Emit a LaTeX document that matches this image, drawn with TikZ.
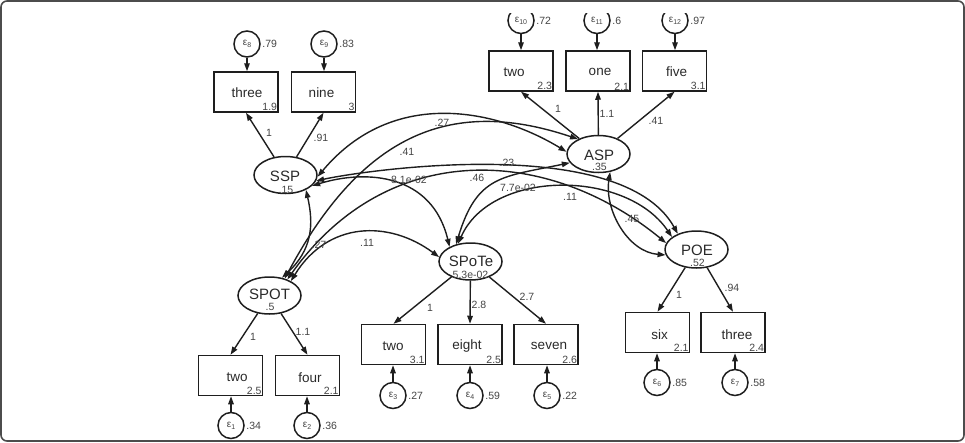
\documentclass[tikz,border=0pt]{standalone}
\usepackage{fontspec}
\setmainfont{Liberation Sans}
\usetikzlibrary{arrows.meta,shapes.geometric}
\definecolor{linec}{HTML}{1E1E1E}
\definecolor{txtc}{HTML}{2A2A2A}
\definecolor{numc}{HTML}{444444}
\newcommand\epsl[1]{ε\raisebox{-0.35ex}{\fontsize{7}{7}\selectfont #1}}
\begin{document}
\begin{tikzpicture}[x=1pt,y=-1pt,
  lat/.style={ellipse,draw=linec,line width=1.5pt,minimum width=63pt,minimum height=37pt,inner sep=0pt},
  obs/.style={rectangle,draw=linec,line width=1.5pt,minimum width=64pt,minimum height=40pt,inner sep=0pt},
  err/.style={circle,draw=linec,line width=1.5pt,minimum size=26pt,inner sep=0pt,text=numc,font=\fontsize{10}{10}\selectfont},
  lname/.style={text=txtc,font=\fontsize{15}{16}\selectfont,inner sep=0pt},
  bname/.style={text=txtc,font=\fontsize{13.5}{14}\selectfont,inner sep=0pt},
  val/.style={text=numc,font=\fontsize{10.5}{11}\selectfont,inner sep=0pt},
  bval/.style={text=numc,font=\fontsize{10.5}{11}\selectfont,inner sep=1.5pt,anchor=south east},
  vlab/.style={text=numc,font=\fontsize{10.5}{11}\selectfont,inner sep=1.5pt,anchor=west},
  reg/.style={draw=linec,line width=1.4pt,-{Triangle[length=8pt,width=5.5pt]}},
  cov/.style={draw=linec,line width=1.4pt,{Triangle[length=8pt,width=5.5pt]}-{Triangle[length=8pt,width=5.5pt]}}]
\useasboundingbox (0,0) rectangle (965,442);
\draw[black!70,line width=1.6pt,rounded corners=6pt] (1,1) rectangle (964,441);

% latent variables
\node[lat] (SSP) at (285.5,175) {};
\node[lat] (ASP) at (598.5,154) {};
\node[lat] (SPOT) at (269.5,295.5) {};
\node[lat] (SPoTe) at (470.5,261.5) {};
\node[lat] (POE) at (696.5,249.5) {};
\node[lname] (SSPn) at (285,176.5) {SSP};
\node[val] (SSPv) at (286,189.5) {.15};
\node[lname] (ASPn) at (599,155) {ASP};
\node[val] (ASPv) at (599.5,167) {.35};
\node[lname] (SPOTn) at (269.5,294) {SPOT};
\node[val] (SPOTv) at (270,307) {.5};
\node[lname] (SPoTen) at (471,261.5) {SPoTe};
\node[val] (SPoTev) at (470.5,275) {5.3e-02};
\node[lname] (POEn) at (697,250) {POE};
\node[val] (POEv) at (697.5,263) {.52};

% observed variables
\node[obs] (b3) at (246,92) {};
\node[obs] (b9) at (323.5,92) {};
\node[obs] (a2) at (521,71) {};
\node[obs] (a1) at (598,71) {};
\node[obs] (a5) at (674.5,71) {};
\node[obs] (p2) at (230.5,375.5) {};
\node[obs] (p4) at (307.5,375.5) {};
\node[obs] (t2) at (393.5,344.5) {};
\node[obs] (t8) at (470,344.5) {};
\node[obs] (t7) at (546,344.5) {};
\node[obs] (o6) at (657.5,332.5) {};
\node[obs] (o3) at (733,332.5) {};

\node[bname] (b3n) at (247,93) {three};
\node[bname] (b9n) at (321.5,93) {nine};
\node[bname] (a2n) at (514,72) {two};
\node[bname] (a1n) at (600,72) {one};
\node[bname] (a5n) at (676.5,72) {five};
\node[bname] (p2n) at (237,377.5) {two};
\node[bname] (p4n) at (310,377.5) {four};
\node[bname] (t2n) at (393,346) {two};
\node[bname] (t8n) at (467,346) {eight};
\node[bname] (t7n) at (549,346) {seven};
\node[bname] (o6n) at (659.5,335) {six};
\node[bname] (o3n) at (737,335) {three};

\node[bval] (b3v) at (b3.south east) {1.9};
\node[bval] (b9v) at (b9.south east) {3};
\node[bval] (a2v) at (a2.south east) {2.3};
\node[bval] (a1v) at (a1.south east) {2.1};
\node[bval] (a5v) at (a5.south east) {3.1};
\node[bval] (p2v) at (p2.south east) {2.5};
\node[bval] (p4v) at (p4.south east) {2.1};
\node[bval] (t2v) at (t2.south east) {3.1};
\node[bval] (t8v) at (t8.south east) {2.5};
\node[bval] (t7v) at (t7.south east) {2.6};
\node[bval] (o6v) at (o6.south east) {2.1};
\node[bval] (o3v) at (o3.south east) {2.4};

% error terms
\node[err] (e8) at (247,44) {\epsl{8}};
\node[err] (e9) at (324,44) {\epsl{9}};
\begin{scope}
\clip (0,13) rectangle (965,442);
\node[err] (e10) at (521,20.5) {\epsl{10}};
\node[err] (e11) at (597,20.5) {\epsl{11}};
\node[err] (e12) at (675,20.5) {\epsl{12}};
\end{scope}
\node[err] (e1) at (231,425.5) {\epsl{1}};
\node[err] (e2) at (307,425.5) {\epsl{2}};
\node[err] (e3) at (393,395.5) {\epsl{3}};
\node[err] (e4) at (470,395.5) {\epsl{4}};
\node[err] (e5) at (547,395.5) {\epsl{5}};
\node[err] (e6) at (657,382.5) {\epsl{6}};
\node[err] (e7) at (735,382.5) {\epsl{7}};

\node[vlab] (v8) at (e8.east) {.79};
\node[vlab] (v9) at (e9.east) {.83};
\node[vlab] (v10) at (e10.east) {.72};
\node[vlab] (v11) at (e11.east) {.6};
\node[vlab] (v12) at (e12.east) {.97};
\node[vlab] (v1) at (e1.east) {.34};
\node[vlab] (v2) at (e2.east) {.36};
\node[vlab] (v3) at (e3.east) {.27};
\node[vlab] (v4) at (e4.east) {.59};
\node[vlab] (v5) at (e5.east) {.22};
\node[vlab] (v6) at (e6.east) {.85};
\node[vlab] (v7) at (e7.east) {.58};

% error arrows
\draw[reg] (e8) -- (e8 |- b3.north);
\draw[reg] (e9) -- (e9 |- b9.north);
\draw[reg] (e10) -- (e10 |- a2.north);
\draw[reg] (e11) -- (e11 |- a1.north);
\draw[reg] (e12) -- (e12 |- a5.north);
\draw[reg] (e1) -- (e1 |- p2.south);
\draw[reg] (e2) -- (e2 |- p4.south);
\draw[reg] (e3) -- (e3 |- t2.south);
\draw[reg] (e4) -- (e4 |- t8.south);
\draw[reg] (e5) -- (e5 |- t7.south);
\draw[reg] (e6) -- (e6 |- o6.south);
\draw[reg] (e7) -- (e7 |- o3.south);

% loadings
\draw[reg] (SSP) -- (b3.south);
\draw[reg] (SSP) -- (b9.south);
\draw[reg] (ASP) -- (a2.south);
\draw[reg] (ASP) -- (a1.south);
\draw[reg] (ASP) -- (a5.south);
\draw[reg] (SPOT) -- (p2.north);
\draw[reg] (SPOT) -- (p4.north);
\draw[reg] (SPoTe) -- (t2.north);
\draw[reg] (SPoTe) -- (t8.north);
\draw[reg] (SPoTe) -- (t7.north);
\draw[reg] (POE) -- (o6.north);
\draw[reg] (POE) -- (o3.north);

\node[val] (l1) at (269,133) {1};
\node[val] (l2) at (321,138) {.91};
\node[val] (l3) at (558,109) {1};
\node[val] (l4) at (607,114) {1.1};
\node[val] (l5) at (656,121) {.41};
\node[val] (l6) at (253,337) {1};
\node[val] (l7) at (303,332) {1.1};
\node[val] (l8) at (430,308) {1};
\node[val] (l9) at (479,305) {2.8};
\node[val] (l10) at (527,297) {2.7};
\node[val] (l11) at (679,295) {1};
\node[val] (l12) at (732,288) {.94};

% covariances
\draw[cov] (SSP.-3) .. controls (393.5,86) and (498,110) .. (ASP.176);
\draw[cov] (SPOT.48) .. controls (359.5,139.4) and (446,94.6) .. (ASP.144);
\draw[cov] (SSP.-11) .. controls (360,171) and (621,132) .. (POE.140);
\draw[cov] (SSP.-22) .. controls (367,169) and (432,174) .. (SPoTe.145);
\draw[cov] (SPoTe.130) .. controls (477,175) and (502,177) .. (ASP.197);
\draw[cov] (SPoTe.125) .. controls (491,169) and (626,169) .. (POE.153);
\draw[cov] (SPOT.42) .. controls (388,138) and (548,146) .. (POE.168);
\draw[cov] (SSP.-36) .. controls (314,225) and (312,250) .. (SPOT.55);
\draw[cov] (SPOT.34) .. controls (328,221) and (389,220) .. (SPoTe.172);
\draw[cov] (ASP.-57) .. controls (604,210) and (628,252) .. (POE.190);

\node[val] (c1) at (442,123) {.27};
\node[val] (c2) at (407,152) {.41};
\node[val] (c3) at (507,163) {.23};
\node[val] (c4) at (409,180) {8.1e-02};
\node[val] (c5) at (477,178) {.46};
\node[val] (c6) at (518,188) {7.7e-02};
\node[val] (c7) at (570,197) {.11};
\node[val] (c8) at (632,219) {.45};
\node[val] (c9) at (319,245) {.27};
\node[val] (c10) at (367,243) {.11};
\end{tikzpicture}
\end{document}
